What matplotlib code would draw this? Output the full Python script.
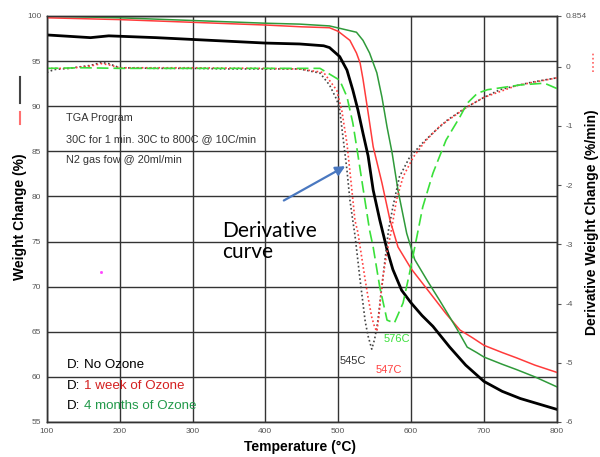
import numpy as np
import matplotlib
matplotlib.use("Agg")
import matplotlib.pyplot as plt
from matplotlib.lines import Line2D

plt.rcParams['font.family'] = ['Liberation Sans', 'DejaVu Sans']

# TGA weight curves (left axis, %)
t_none = [100, 140, 160, 185, 250, 300, 350, 400, 447, 480, 488, 502, 512, 520, 527, 534,
          541, 548, 557, 567, 575, 587, 600, 615, 630, 653, 675, 700, 725, 750, 775, 800]
w_none = [97.9, 97.7, 97.6, 97.8, 97.6, 97.4, 97.2, 97.0, 96.9, 96.7, 96.5, 95.5, 94.0, 91.8,
          89.6, 87.0, 84.5, 80.7, 77.4, 74.1, 71.9, 69.6, 68.2, 66.8, 65.6, 63.3, 61.3, 59.5,
          58.4, 57.6, 57.0, 56.4]

t_week = [100, 200, 300, 400, 450, 488, 500, 516, 525, 530, 534, 541, 548, 560, 571, 582,
          600, 626, 648, 667, 685, 700, 725, 745, 770, 800]
w_week = [99.8, 99.6, 99.3, 99.0, 98.8, 98.7, 98.3, 97.3, 95.9, 94.8, 93.0, 89.3, 85.5, 81.5,
          77.4, 74.4, 72.0, 69.3, 67.0, 65.2, 64.3, 63.5, 62.7, 62.1, 61.3, 60.5]

t_month = [100, 200, 300, 400, 447, 488, 525, 534, 543, 553, 560, 567, 574, 582, 594, 605,
           622, 639, 663, 677, 690, 700, 725, 745, 770, 800]
w_month = [100.0, 99.8, 99.5, 99.2, 99.1, 98.9, 98.2, 97.3, 95.9, 93.7, 91.0, 87.7, 84.8,
           80.7, 75.9, 73.0, 70.7, 68.5, 65.3, 63.3, 62.7, 62.2, 61.4, 60.8, 60.0, 58.9]

# derivative curves (right axis, %/min)
dt_none = [100, 110, 130, 160, 175, 185, 200, 250, 300, 350, 400, 447, 475, 488, 498, 502,
           507, 512, 516, 520, 523, 530, 537, 541, 546, 550, 554, 561, 569, 575, 584, 598,
           615, 630, 650, 677, 700, 722, 745, 767, 800]
d_none = [-0.10, -0.05, -0.03, 0.02, 0.07, 0.05, -0.02, -0.03, -0.03, -0.04, -0.04, -0.04,
          -0.11, -0.31, -0.56, -0.73, -1.24, -1.75, -2.25, -2.6, -2.85, -3.6, -4.3, -4.55,
          -4.77, -4.6, -4.33, -3.6, -2.76, -2.37, -1.86, -1.53, -1.3, -1.12, -0.9, -0.68,
          -0.52, -0.39, -0.32, -0.26, -0.19]

dt_week = [100, 130, 160, 175, 185, 200, 300, 400, 447, 480, 498, 505, 512, 518, 523, 527,
           532, 537, 541, 546, 550, 553, 556, 558, 562, 566, 573, 580, 589, 603, 620, 640,
           677, 700, 745, 800]
d_week = [-0.03, -0.03, 0.01, 0.05, 0.03, -0.02, -0.02, -0.03, -0.04, -0.1, -0.4, -0.75, -1.3,
          -2.0, -2.6, -2.8, -3.2, -3.6, -3.9, -4.23, -4.4, -4.47, -4.2, -3.9, -3.5, -3.2,
          -2.76, -2.25, -1.86, -1.53, -1.25, -1.0, -0.68, -0.52, -0.32, -0.19]

dt_month = [100, 150, 200, 300, 400, 475, 502, 512, 520, 526, 533, 543, 548, 557, 567, 577,
            589, 598, 607, 616, 630, 648, 667, 677, 691, 705, 750, 783, 800]
d_month = [-0.03, -0.02, -0.03, -0.03, -0.03, -0.03, -0.23, -0.51, -0.95, -1.41, -1.97, -2.76,
           -3.05, -3.72, -4.28, -4.33, -3.99, -3.48, -2.93, -2.37, -1.8, -1.24, -0.85, -0.62,
           -0.45, -0.39, -0.31, -0.28, -0.37]

x_ticks = [100, 200, 300, 400, 500, 600, 700, 800]
y_ticks = [55, 60, 65, 70, 75, 80, 85, 90, 95, 100]
r_ticks = [-6, -5, -4, -3, -2, -1, 0, 0.854]
r_labels = ['-6', '-5', '-4', '-3', '-2', '-1', '0', '0.854']

fig = plt.figure(figsize=(6, 4.57), dpi=100)
ax = fig.add_axes([0.078, 0.0766, 0.85, 0.8884])
ax2 = ax.twinx()

ax.plot(t_none, w_none, color='black', lw=2.0, zorder=5)
ax.plot(t_week, w_week, color='#ff3b3b', lw=1.1, zorder=4)
ax.plot(t_month, w_month, color='#2f9a3a', lw=1.1, zorder=4)

ax2.plot(dt_none, d_none, color='#444444', lw=1.2, ls=(0, (1, 1.5)))
ax2.plot(dt_week, d_week, color='#ff4040', lw=1.2, ls=(0, (1, 1.5)))
ax2.plot(dt_month, d_month, color='#3ae03a', lw=1.2, ls=(0, (7, 3)))

ax.set_xlim(100, 800)
ax.set_ylim(55, 100)
ax2.set_ylim(-6, 0.854)
ax.set_xticks(x_ticks)
ax.set_yticks(y_ticks)
ax2.set_yticks(r_ticks)
ax2.set_yticklabels(r_labels)
ax.grid(True, color='#333333', lw=1.0)
ax.set_axisbelow(True)

for a in (ax, ax2):
    for s in a.spines.values():
        s.set_color('#333333')
        s.set_linewidth(1.0)
ax.tick_params(axis='both', labelsize=6, colors='#555555', length=0, pad=4)
ax2.tick_params(axis='y', labelsize=6, colors='#555555', length=3, direction='out', pad=3)

# annotations
ax.text(126, 88.7, 'TGA Program', fontsize=7.8, color='#333333', va='center')
ax.text(126, 86.3, '30C for 1 min. 30C to 800C @ 10C/min', fontsize=7.8, color='#333333', va='center')
ax.text(126, 84.0, 'N2 gas fow @ 20ml/min', fontsize=7.8, color='#333333', va='center')

ax.text(340, 75.0, 'Derivative\ncurve', fontsize=15, family=['Lato', 'DejaVu Sans'],
        va='center', ha='left', linespacing=1.1)
ax.annotate('', xy=(513, 83.5), xytext=(422, 79.4),
            arrowprops=dict(arrowstyle='-|>', color='#4a78c0', lw=1.6, mutation_scale=14))

ax.text(520, 61.8, '545C', fontsize=8, color='#333333', ha='center', va='center')
ax.text(569, 60.8, '547C', fontsize=8, color='#ff4040', ha='center', va='center')
ax.text(581, 64.2, '576C', fontsize=8, color='#3ae03a', ha='center', va='center')
ax.plot([175], [71.6], marker='s', ms=1, color='#ff44ff', lw=0)

leg_rows = [('No Ozone', 'black', 61.3), ('1 week of Ozone', '#d42020', 59.0),
            ('4 months of Ozone', '#22994a', 56.8)]
for label, col, yy in leg_rows:
    t = ax.text(127, yy, 'D:', fontsize=9.6, color='black', va='center')
    ax.annotate(label, xycoords=t, xy=(1, 0.5), xytext=(3, 0), textcoords='offset points',
                va='center', fontsize=9.6, color=col)

# axis titles with series keys
fig.text(0.033, 0.525, 'Weight Change (%)', rotation=90, fontsize=10, fontweight='bold',
         ha='center', va='center')
fig.add_artist(Line2D([0.033, 0.033], [0.775, 0.832], color='#444444', lw=1.5))
fig.add_artist(Line2D([0.033, 0.033], [0.729, 0.755], color='#ff7070', lw=1.5))
fig.text(0.987, 0.514, 'Derivative Weight Change (%/min)', rotation=90, fontsize=10,
         fontweight='bold', ha='center', va='center')
fig.add_artist(Line2D([0.988, 0.988], [0.842, 0.884], color='#ff6060', lw=1.2, ls=(0, (1, 1.5))))
fig.text(0.5, 0.022, 'Temperature (°C)', fontsize=10, fontweight='bold', ha='center', va='center')

fig.savefig('out.png', dpi=100)
